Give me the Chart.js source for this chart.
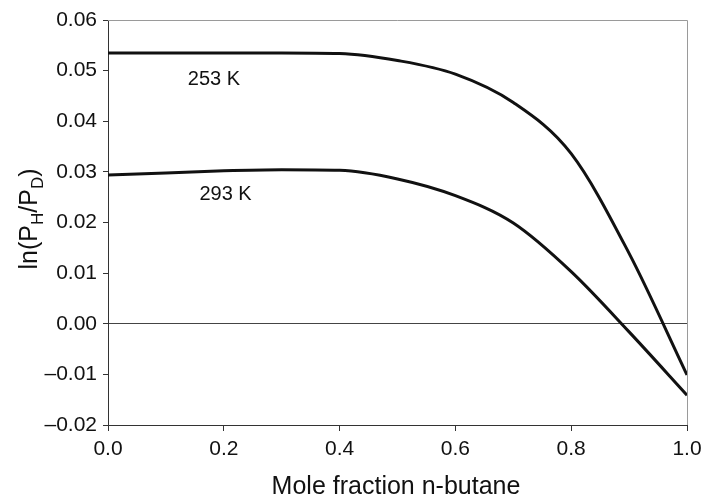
<!DOCTYPE html>
<html>
<head>
<meta charset="utf-8">
<script src="https://cdn.jsdelivr.net/npm/chart.js@4"></script>
<style>
  html, body { margin: 0; padding: 0; background: #fff; }
  #wrap { width: 701px; height: 497px; }
</style>
</head>
<body>
<div id="wrap"><canvas id="chart" width="701" height="497"></canvas></div>
<script>
// mole fraction of n-butane
const moleFraction = [0, 0.1, 0.2, 0.3, 0.4, 0.5, 0.6, 0.7, 0.8, 0.9, 1.0];
const ln253 = [0.0535, 0.0535, 0.0535, 0.0535, 0.0534, 0.0520, 0.0493, 0.0437, 0.0336, 0.0139, -0.0101];
const ln293 = [0.0294, 0.0298, 0.0302, 0.0304, 0.0303, 0.0286, 0.0253, 0.0199, 0.0103, -0.0016, -0.0141];

const curveNames = ['253 K', '293 K'];
const labelX = [0.183, 0.203];
const labelY = [0.0471, 0.0245];

const xTicks = [0, 0.2, 0.4, 0.6, 0.8, 1.0];
const yTicks = [-0.02, -0.01, 0, 0.01, 0.02, 0.03, 0.04, 0.05, 0.06];

const FONT = "'Liberation Sans', Arial, Helvetica, sans-serif";

const toPoints = (ys) => moleFraction.map((x, i) => ({ x: x, y: ys[i] }));

const decorPlugin = {
  id: 'decor',
  afterDraw(chart) {
    const { ctx, chartArea, scales } = chart;
    ctx.save();

    // top and right frame in grey
    ctx.strokeStyle = '#9a9a9a';
    ctx.lineWidth = 1;
    ctx.beginPath();
    ctx.moveTo(chartArea.left, chartArea.top + 0.5);
    ctx.lineTo(chartArea.right + 0.5, chartArea.top + 0.5);
    ctx.lineTo(chartArea.right + 0.5, chartArea.bottom);
    ctx.stroke();

    // curve labels
    ctx.fillStyle = '#111';
    ctx.font = '20px ' + FONT;
    ctx.textAlign = 'center';
    ctx.textBaseline = 'alphabetic';
    curveNames.forEach((name, i) => {
      ctx.fillText(name, scales.x.getPixelForValue(labelX[i]), scales.y.getPixelForValue(labelY[i]));
    });

    // x axis title
    ctx.font = '25px ' + FONT;
    ctx.fillText('Mole fraction n-butane', 396, 494);

    // y axis title with subscripts
    const parts = [
      ['ln(P', 25, 0], ['H', 17, 6], ['/P', 25, 0], ['D', 17, 6], [')', 25, 0]
    ];
    let total = 0;
    parts.forEach(p => { ctx.font = p[1] + 'px ' + FONT; total += ctx.measureText(p[0]).width; });
    ctx.translate(37, 219);
    ctx.rotate(-Math.PI / 2);
    ctx.textAlign = 'left';
    let cx = -total / 2;
    parts.forEach(p => {
      ctx.font = p[1] + 'px ' + FONT;
      ctx.fillText(p[0], cx, p[2]);
      cx += ctx.measureText(p[0]).width;
    });
    ctx.restore();
  }
};

new Chart(document.getElementById('chart'), {
  type: 'line',
  data: {
    datasets: [
      { label: curveNames[0], data: toPoints(ln253), borderColor: '#111', borderWidth: 3, pointRadius: 0, cubicInterpolationMode: 'monotone', fill: false },
      { label: curveNames[1], data: toPoints(ln293), borderColor: '#111', borderWidth: 3, pointRadius: 0, cubicInterpolationMode: 'monotone', fill: false }
    ]
  },
  options: {
    responsive: false,
    animation: false,
    layout: { padding: { top: 20, right: 14, bottom: 0, left: 0 } },
    plugins: { legend: { display: false }, tooltip: { enabled: false } },
    scales: {
      x: {
        type: 'linear',
        min: 0, max: 1,
        afterFit: (s) => { s.height = 72; s.paddingLeft = 0; s.paddingRight = 0; },
        afterBuildTicks: (s) => { s.ticks = xTicks.map(v => ({ value: v })); },
        ticks: {
          color: '#111',
          padding: 6,
          maxRotation: 0,
          font: { family: FONT, size: 21 },
          callback: (v) => v.toFixed(1)
        },
        grid: { drawOnChartArea: false, tickLength: 6, tickColor: '#333', color: '#333' },
        border: { color: '#333', width: 1 }
      },
      y: {
        min: -0.02, max: 0.06,
        afterFit: (s) => { s.width = 108; s.paddingTop = 0; s.paddingBottom = 0; },
        afterBuildTicks: (s) => { s.ticks = yTicks.map(v => ({ value: v })); },
        ticks: {
          color: '#111',
          padding: 6,
          font: { family: FONT, size: 21 },
          callback: (v) => (v < 0 ? '\u2013' : '') + Math.abs(v).toFixed(2)
        },
        grid: {
          tickLength: 5,
          tickColor: '#333',
          color: (c) => (c.tick && Math.abs(c.tick.value) < 1e-9 ? '#444' : 'rgba(0,0,0,0)'),
          lineWidth: 1
        },
        border: { color: '#333', width: 1 }
      }
    }
  },
  plugins: [decorPlugin]
});
</script>
</body>
</html>
